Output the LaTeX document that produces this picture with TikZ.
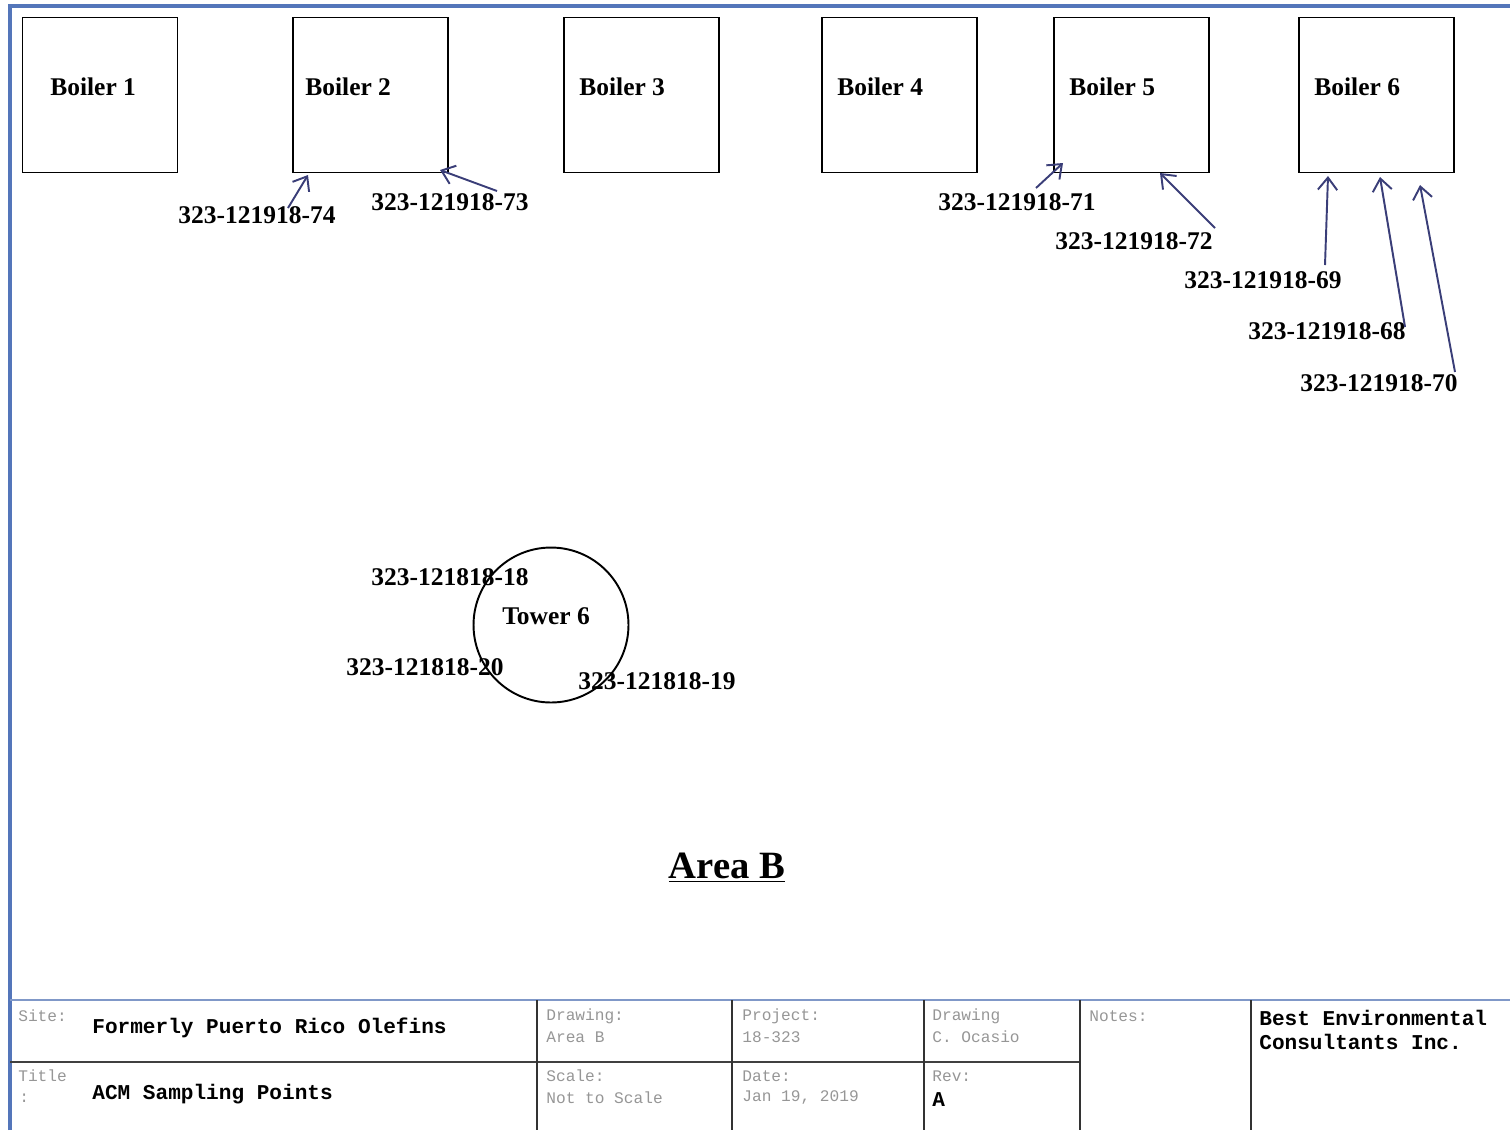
\documentclass[tikz,border=0pt]{standalone}
\usepackage{fontspec}
\setmainfont{Liberation Serif}
\setmonofont{Liberation Mono}
\usetikzlibrary{arrows.meta,positioning}

\definecolor{frameblue}{RGB}{84,118,186}
\definecolor{lineblue}{RGB}{128,152,200}
\definecolor{arrownavy}{RGB}{58,62,120}
\definecolor{labgray}{RGB}{150,150,150}

\begin{document}
\begin{tikzpicture}[x=0.02cm,y=-0.02cm,
		boiler/.style={draw,thick,minimum size=3.1cm,inner sep=0pt},
		blabel/.style={anchor=west,inner sep=0pt,font=\fontsize{14.5}{16}\selectfont\bfseries},
		sample/.style={inner sep=0pt,font=\fontsize{14.5}{16}\selectfont\bfseries},
		ptr/.style={arrownavy,line width=1.1pt,-{Straight Barb[length=7pt,width=11pt]}},
		cell/.style={anchor=west,inner sep=0pt,text=labgray,font=\fontsize{9.2}{11}\selectfont\ttfamily},
		celltxt/.style={anchor=west,inner sep=0pt,font=\fontsize{12}{14}\selectfont\ttfamily\bfseries}]
		\useasboundingbox (0,0) rectangle (1510,1130);

		% Frame
		\draw[frameblue,line width=2.2pt] (10,1130) -- (10,6) -- (1510,6);

		% Boilers
		\node[boiler] (b1) at (100,95) {};
		\node[boiler] (b2) at (370.5,95) {};
		\node[boiler] (b3) at (641.5,95) {};
		\node[boiler] (b4) at (899.5,95) {};
		\node[boiler] (b5) at (1131.5,95) {};
		\node[boiler] (b6) at (1376.5,95) {};
		\node[blabel] (n1) at (50,87) {Boiler 1};
		\node[blabel] (n2) at (305,87) {Boiler 2};
		\node[blabel] (n3) at (579,87) {Boiler 3};
		\node[blabel] (n4) at (837,87) {Boiler 4};
		\node[blabel] (n5) at (1069,87) {Boiler 5};
		\node[blabel] (n6) at (1314,87) {Boiler 6};

		% Sample labels
		\node[sample] (l74) at (257,215) {323-121918-74};
		\node[sample] (l73) at (450,202) {323-121918-73};
		\node[sample] (l71) at (1017,202) {323-121918-71};
		\node[sample] (l72) at (1134,241) {323-121918-72};
		\node[sample] (l69) at (1263,280) {323-121918-69};
		\node[sample] (l68) at (1327,331) {323-121918-68};
		\node[sample] (l70) at (1379,383) {323-121918-70};

		% Arrow ends
		\coordinate (t74) at (288,208);  \coordinate (h74) at (308,175);
		\coordinate (t73) at (497,191);  \coordinate (h73) at (440,170);
		\coordinate (t71) at (1036,188); \coordinate (h71) at (1063,163);
		\coordinate (t72) at (1215,228); \coordinate (h72) at (1160,173);
		\coordinate (t69) at (1325,265); \coordinate (h69) at (1328,176);
		\coordinate (t68) at (1405,327); \coordinate (h68) at (1380,177);
		\coordinate (t70) at (1455,372); \coordinate (h70) at (1420,185);
		\foreach \s in {74,73,71,72,69,68,70}
			\draw[ptr] (t\s) -- (h\s);

		% Tower
		\node[draw,line width=1.1pt,circle,minimum size=3.1cm,inner sep=0pt] (tower) at (551,625) {};
		\node[sample] (tname) at (546,616) {Tower 6};
		\node[sample] (l18) at (450,577) {323-121818-18};
		\node[sample] (l20) at (425,667) {323-121818-20};
		\node[sample] (l19) at (657,681) {323-121818-19};

		% Title
		\node[font=\fontsize{22}{24}\selectfont\bfseries] (area) at (727,868) {\underline{Area B}};

		% Title block
		\draw[lineblue,line width=1pt] (10,1000) -- (1510,1000);
		\draw[black!75,line width=1pt] (10,1062) -- (1080,1062);
		\foreach \x in {537,732,924,1080,1251}
			\draw[black!80,line width=0.7pt] (\x,1000) -- (\x,1130);

		\node[cell] (site) at (18,1016) {Site:};
		\node[celltxt] (sitev) at (92,1028) {Formerly Puerto Rico Olefins};
		\node[cell] (title) at (18,1076) {Title};
		\node[cell] (colon) at (19,1098) {:};
		\node[celltxt] (titlev) at (92,1094) {ACM Sampling Points};
		\node[cell] (drw) at (546,1016) {Drawing:};
		\node[cell] (drwv) at (546,1037) {Area B};
		\node[cell] (proj) at (742,1016) {Project:};
		\node[cell] (projv) at (742,1037) {18-323};
		\node[cell] (drwby) at (932,1016) {Drawing};
		\node[cell] (drwbyv) at (932,1037) {C. Ocasio};
		\node[cell] (notes) at (1089,1016) {Notes:};
		\node[celltxt] (firm1) at (1259,1018) {Best Environmental};
		\node[celltxt] (firm2) at (1259,1042) {Consultants Inc.};
		\node[cell] (scale) at (546,1076) {Scale:};
		\node[cell] (scalev) at (546,1098) {Not to Scale};
		\node[cell] (date) at (742,1076) {Date:};
		\node[cell] (datev) at (742,1098) {Jan 19, 2019};
		\node[cell] (rev) at (932,1076) {Rev:};
		\node[celltxt] (revv) at (932,1100) {A};
	\end{tikzpicture}
\end{document}
